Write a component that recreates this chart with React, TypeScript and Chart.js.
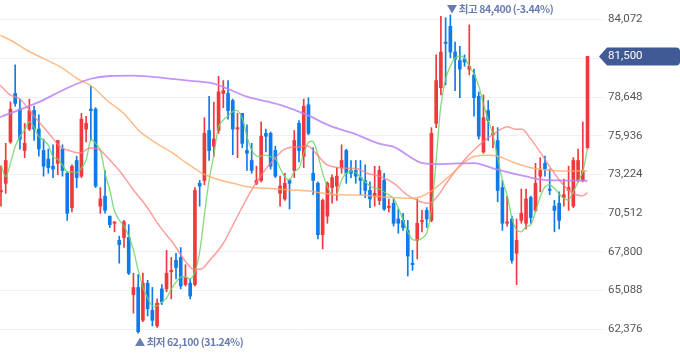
import React, { useEffect, useRef } from 'react';
import { Chart, registerables } from 'chart.js';

Chart.register(...registerables);

// ---- Daily candles (index 0 .. 124) ----
const opens = [
  72000, 72600, 75500, 78900, 77800, 74900, 76400, 77700, 76400, 74900,
  74300, 73800, 74000, 75000, 73300, 70900, 74200, 73100, 76400, 77800,
  77800, 71000, 71700, 70300, 69800, 68600, 68800, 68800, 64800, 65300,
  63000, 65600, 63700, 62600, 65200, 65200, 66400, 67200, 67400, 65500,
  65600, 65500, 72600, 72800, 76300, 75200, 76300, 78900, 78900, 78400,
  76400, 77500, 74900, 74200, 72600, 72800, 76100, 76100, 74900, 71900,
  71500, 72800, 73500, 76800, 74500, 78100, 73300, 72600, 69000, 70300,
  72300, 72400, 73700, 74900, 73500, 73500, 73000, 72800, 72100, 71700,
  71400, 72800, 70900, 71200, 70100, 70000, 69300, 67000, 68600, 69900,
  70700, 70000, 76800, 79300, 82500, 83600, 81800, 81200, 81300, 80600,
  80200, 78700, 74800, 77700, 76000, 75600, 72300, 69800, 70100, 67700,
  70000, 69800, 71600, 70700, 73100, 74000, 72200, 71000, 71200, 71600,
  72100, 71000, 72800, 72800, 75100,
];
const highs = [
  73800, 75400, 78300, 80900, 78500, 76800, 78500, 78000, 77400, 75700,
  75000, 75300, 75600, 75300, 73400, 73900, 74500, 77500, 77300, 79400,
  77900, 72300, 73500, 70300, 69900, 68900, 70000, 69700, 66300, 66200,
  66300, 65800, 65300, 64500, 65500, 67900, 67400, 67700, 68100, 66900,
  65900, 72300, 72800, 77200, 78700, 78300, 80100, 79800, 79800, 78500,
  77500, 77500, 76700, 75400, 73800, 76900, 76400, 76200, 75200, 73100,
  73300, 72900, 76300, 77000, 78500, 78600, 75100, 72700, 71500, 72700,
  73200, 73700, 75300, 75000, 74200, 74200, 74200, 73900, 72700, 73800,
  73800, 73300, 71500, 71500, 70800, 70500, 70000, 67900, 71500, 70700,
  70900, 76500, 81600, 84300, 84200, 84400, 82500, 82200, 81600, 83700,
  80600, 79000, 78800, 78400, 76600, 76500, 72800, 71700, 70300, 70100,
  72200, 72200, 71700, 74000, 74400, 74500, 73600, 71400, 72000, 72900,
  73800, 74400, 75000, 76900, 81500,
];
const lows = [
  71000, 71900, 75400, 78000, 75000, 74400, 76300, 75600, 74500, 73100,
  73300, 73000, 73200, 73100, 70000, 70600, 72300, 73000, 75500, 75600,
  72300, 70500, 70500, 69500, 69200, 67000, 68100, 66200, 63500, 62100,
  62900, 63300, 62600, 62500, 64100, 65000, 64500, 65900, 65200, 65400,
  64500, 65400, 71000, 72500, 74200, 74500, 76100, 77900, 77100, 74600,
  74400, 75100, 73500, 73300, 72500, 72700, 74800, 73600, 73000, 71000,
  71400, 70800, 73000, 74100, 73700, 76000, 71800, 68700, 68000, 69800,
  71200, 71400, 73300, 72600, 73000, 72600, 71800, 71600, 70900, 71000,
  71100, 70700, 70600, 69600, 69100, 69300, 66100, 66500, 67300, 69200,
  69500, 69900, 76500, 78800, 79500, 81400, 79100, 78600, 80800, 80200,
  77300, 75700, 74700, 75600, 75100, 71300, 69300, 69600, 67000, 65500,
  69800, 69400, 69800, 70600, 72000, 73100, 71800, 69200, 69400, 71000,
  70700, 70900, 72700, 72700, 75000,
];
const closes = [
  72100, 74200, 77800, 78200, 75700, 75400, 77700, 76400, 75000, 73800,
  73700, 73600, 75600, 73500, 70500, 73800, 73000, 77100, 76800, 77700,
  72400, 71500, 70700, 69700, 69900, 68300, 69900, 66300, 65300, 62200,
  65600, 63800, 63000, 64200, 64300, 66300, 66500, 66700, 65400, 66000,
  64700, 72100, 72400, 76100, 74900, 75700, 79000, 79100, 77700, 76400,
  76500, 75400, 74700, 73500, 72800, 75900, 75900, 73800, 73100, 72400,
  72600, 72600, 75600, 74900, 78000, 76100, 72800, 69000, 71400, 72600,
  73000, 73100, 74200, 73300, 73300, 73100, 72800, 72100, 71500, 71900,
  73500, 70800, 71000, 69800, 69800, 69500, 67500, 66900, 69800, 70000,
  70100, 76100, 79800, 81800, 82400, 81800, 81300, 80600, 81100, 80800,
  78600, 75900, 77200, 77000, 76100, 72100, 69800, 69900, 67200, 68600,
  70500, 71500, 70200, 72600, 73500, 73600, 72100, 70700, 70000, 71800,
  72300, 74200, 74200, 73500, 81500,
];

// ---- Moving averages ----
const ma5 = [
  73880, 73060, 74020, 75170, 75870, 76340, 76920, 76530, 75870, 75640,
  75280, 74460, 74280, 73880, 73410, 73410, 73340, 73650, 74230, 75640,
  75400, 74930, 73300, 72130, 70660, 70030, 69610, 68910, 67930, 66520,
  65330, 64560, 64000, 64000, 64280, 64560, 65190, 65680, 66030, 66030,
  65890, 66380, 67790, 70380, 72830, 74580, 76570, 77040, 77320, 77620,
  77690, 77160, 75870, 74930, 74510, 74510, 74580, 74460, 74350, 73650,
  73060, 72830, 73410, 73650, 74700, 75450, 75520, 74580, 73300, 72360,
  71780, 71850, 72830, 73300, 73460, 73360, 73020, 72710, 72410, 72270,
  72200, 71990, 71780, 71550, 70870, 70030, 69190, 68660, 68630, 68730,
  69120, 70730, 74230, 78090, 79910, 80820, 81380, 81520, 81380, 80820,
  80260, 79420, 78160, 77040, 75990, 74370, 72830, 71780, 70170, 69330,
  69210, 69560, 69680, 70610, 71660, 72360, 72480, 72250, 71850, 71550,
  71430, 72010, 72710, 73410, 75070,
];
const ma20: [number, number][] = [
  [-0.2, 79490], [1.9, 78790], [4.0, 78510], [6.8, 77390], [10.4, 75990], [12.5, 75170],
  [14.0, 74930], [16.7, 74720], [18.8, 75070], [20.9, 74930], [23.0, 74230], [25.2, 73410],
  [28.0, 72130], [30.8, 70960], [33.6, 69560], [36.4, 68400], [39.3, 66990], [40.7, 66570],
  [42.1, 66570], [44.2, 67230], [47.0, 68400], [49.8, 70170], [52.6, 71920], [55.5, 73390],
  [57.6, 74230], [59.9, 74980], [63.1, 75170], [64.8, 75210], [66.6, 74700], [68.7, 73950],
  [70.8, 73720], [72.9, 73650], [75.2, 73640], [77.4, 73300], [80.3, 73060], [83.1, 72600],
  [85.9, 71780], [88.7, 71310], [90.5, 71200], [92.2, 71660], [94.4, 72710], [96.5, 73650],
  [98.6, 74470], [100.0, 74930], [102.4, 75640], [105.2, 76290], [107.0, 76570], [108.7, 76390],
  [110.1, 76390], [111.9, 75750], [114.4, 74580], [116.5, 73530], [118.6, 72600], [120.7, 71940],
  [122.8, 71710], [124, 71940],
];
const ma60: [number, number][] = [
  [-0.2, 82990], [2.6, 82520], [5.4, 81940], [8.9, 81360], [12.5, 80770], [16.0, 79960],
  [19.5, 79330], [22.3, 78440], [25.9, 77510], [29.4, 76220], [32.9, 75400], [36.4, 74700],
  [39.3, 74000], [42.1, 73390], [43.8, 73110], [47.0, 72760], [50.1, 72520], [51.9, 72360],
  [56.2, 72250], [61.1, 72130], [65.3, 72060], [68.1, 71900], [72.9, 71780], [75.2, 71780],
  [81.7, 71620], [85.9, 71550], [88.7, 71660], [90.8, 72010], [93.0, 72600], [95.8, 73410],
  [98.6, 74230], [100.0, 74480], [103.1, 74560], [105.2, 74480], [108.7, 74020], [112.3, 73670],
  [116.5, 73500], [120.7, 73460], [124, 73460],
];
const ma120: [number, number][] = [
  [-0.2, 77230], [8.2, 78320], [13.9, 79260], [18.8, 79910], [23.0, 80120], [27.9, 80140],
  [35.1, 79960], [42.1, 79720], [44.8, 79610], [52.0, 78670], [59.0, 78090], [64.7, 77390],
  [69.6, 76620], [74.4, 76110], [80.1, 75360], [82.9, 75170], [89.4, 74000], [92.8, 73950],
  [97.0, 74000], [100.0, 74020], [104.0, 73650], [106.6, 73410], [111.2, 73060], [113.7, 72880],
  [118.2, 72800], [124, 72780],
];

// ---- Axis ----
const yTicks = [62376, 65088, 67800, 70512, 73224, 75936, 78648, 81360, 84072];
const Y_MIN = 60357;
const Y_MAX = 85446;
const X_MIN = -0.21;
const X_MAX = 127.27;

const RED = '#f0393c';
const BLUE = '#0e7be9';
const LABEL_COLOR = '#6a7db3';
const TAG_COLOR = '#405a96';

const fmt = (v: number) => Math.round(v).toLocaleString('en-US');

const overlayPlugin = {
  id: 'overlay',
  afterDraw(chart: any) {
    const ctx = chart.ctx;
    const xs = chart.scales.x;
    const ys = chart.scales.y;
    const last = closes[closes.length - 1];
    let hiI = 0;
    let loI = 0;
    highs.forEach((v, i) => { if (v > highs[hiI]) hiI = i; });
    lows.forEach((v, i) => { if (v < lows[loI]) loI = i; });
    const hi = highs[hiI];
    const lo = lows[loI];
    const hiPct = ((last - hi) / hi) * 100;
    const loPct = ((last - lo) / lo) * 100;

    ctx.save();
    ctx.fillStyle = LABEL_COLOR;
    ctx.textBaseline = 'middle';
    ctx.textAlign = 'left';
    ctx.font = 'bold 10.5px "Noto Sans CJK KR", "Noto Sans", sans-serif';
    try { (ctx as any).letterSpacing = '-0.45px'; } catch (e) { /* ignore */ }
    const hx = xs.getPixelForValue(hiI);
    ctx.fillText(`▼ 최고 ${fmt(hi)} (${hiPct.toFixed(2)}%)`, hx - 3.5, 9);
    const lx = xs.getPixelForValue(loI);
    ctx.fillText(`▲ 최저 ${fmt(lo)} (${loPct.toFixed(2)}%)`, lx - 3.5, 342.5);
    try { (ctx as any).letterSpacing = '0px'; } catch (e) { /* ignore */ }

    // current price tag
    const y = Math.round(ys.getPixelForValue(last)) + 0.5;
    const left = chart.chartArea.right + 2;
    const right = chart.width;
    const h = 18;
    const r = 4;
    ctx.fillStyle = TAG_COLOR;
    ctx.beginPath();
    ctx.moveTo(left - 6, y);
    ctx.lineTo(left + 2, y - h / 2);
    ctx.lineTo(right - r, y - h / 2);
    ctx.quadraticCurveTo(right, y - h / 2, right, y - h / 2 + r);
    ctx.lineTo(right, y + h / 2 - r);
    ctx.quadraticCurveTo(right, y + h / 2, right - r, y + h / 2);
    ctx.lineTo(left + 2, y + h / 2);
    ctx.closePath();
    ctx.fill();
    ctx.fillStyle = '#ffffff';
    ctx.font = '11.5px Roboto, sans-serif';
    ctx.fillText(fmt(last), chart.chartArea.right + 5, y);
    ctx.restore();
  },
};

export default function App() {
  const ref = useRef<HTMLCanvasElement | null>(null);

  useEffect(() => {
    document.body.style.margin = '0';
    const canvas = ref.current;
    if (!canvas) return;
    const idx = opens.map((_, i) => i);
    const colors = idx.map((i) => (closes[i] >= opens[i] ? RED : BLUE));
    const lineBase = {
      type: 'line' as const,
      pointRadius: 0,
      borderWidth: 1.5,
      fill: false,
      cubicInterpolationMode: 'monotone' as const,
      order: 0,
    };
    const chart = new Chart(canvas, {
      type: 'bar',
      data: {
        datasets: [
          {
            ...lineBase,
            label: 'MA120',
            data: ma120.map(([x, y]) => ({ x, y })),
            borderColor: 'rgba(185,130,248,0.85)',
            borderWidth: 1.8,
          },
          {
            ...lineBase,
            label: 'MA60',
            data: ma60.map(([x, y]) => ({ x, y })),
            borderColor: 'rgba(255,170,105,0.8)',
          },
          {
            ...lineBase,
            label: 'MA20',
            data: ma20.map(([x, y]) => ({ x, y })),
            borderColor: 'rgba(255,125,125,0.75)',
          },
          {
            ...lineBase,
            label: 'MA5',
            data: ma5.map((y, x) => ({ x, y })),
            borderColor: 'rgba(110,212,100,0.85)',
            borderWidth: 1.3,
            cubicInterpolationMode: 'default' as const,
            tension: 0.3,
          },
          {
            type: 'bar',
            label: 'wick',
            data: idx.map((i) => ({ x: i, y: [lows[i], highs[i]] })) as any,
            backgroundColor: colors,
            barThickness: 1,
            grouped: false,
            order: 2,
          },
          {
            type: 'bar',
            label: 'body',
            data: idx.map((i) => ({ x: i, y: [opens[i], closes[i]] })) as any,
            backgroundColor: colors,
            barThickness: 3,
            minBarLength: 1,
            grouped: false,
            order: 1,
          },
        ] as any,
      },
      options: {
        animation: false,
        responsive: true,
        maintainAspectRatio: false,
        events: [],
        layout: { padding: 0 },
        plugins: { legend: { display: false }, tooltip: { enabled: false } },
        scales: {
          x: { type: 'linear', min: X_MIN, max: X_MAX, display: false, offset: false },
          y: {
            position: 'right',
            min: Y_MIN,
            max: Y_MAX,
            afterBuildTicks: (s: any) => {
              s.ticks = yTicks.map((v) => ({ value: v }));
            },
            afterFit: (s: any) => {
              s.width = 77;
              s.paddingTop = 0;
              s.paddingBottom = 0;
            },
            grid: { color: '#edf0f4', drawTicks: false, lineWidth: 1 },
            border: { display: false },
            ticks: {
              padding: 5,
              color: '#555555',
              font: { family: 'Roboto', size: 11.5 },
              callback: (v: any) => fmt(Number(v)),
            },
          },
        },
      } as any,
      plugins: [overlayPlugin],
    });
    return () => chart.destroy();
  }, []);

  return (
    <div style={{ position: 'fixed', left: 0, top: 0, width: 680, height: 358, background: '#fff' }}>
      <canvas ref={ref} />
    </div>
  );
}
